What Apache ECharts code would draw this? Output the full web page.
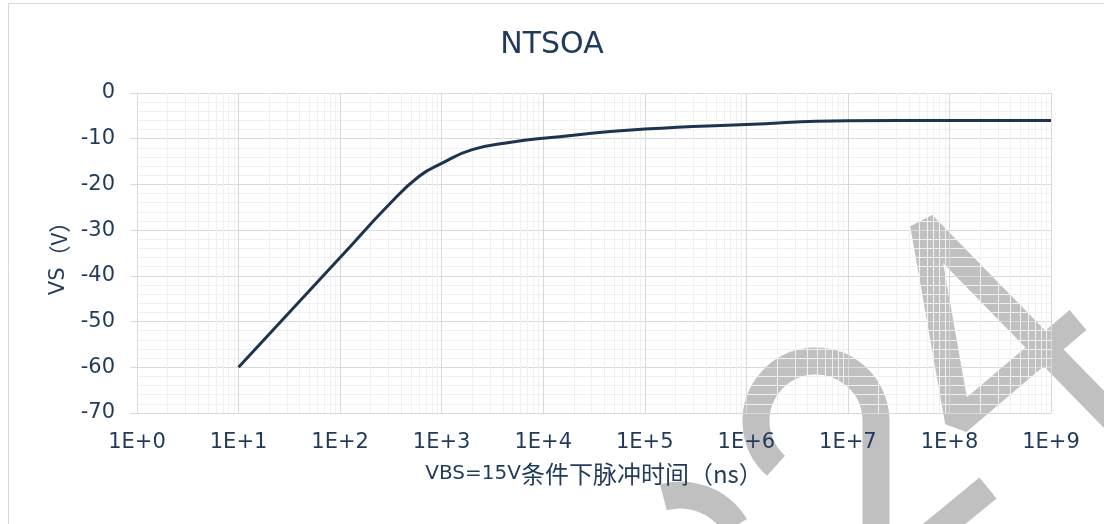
<!DOCTYPE html>
<html>
<head>
<meta charset="utf-8">
<script src="https://cdn.jsdelivr.net/npm/echarts@6/dist/echarts.min.js"></script>
<style>
  html, body {margin: 0; padding: 0; background: #fff;}
  #chart {width: 1104px; height: 524px;}
</style>
</head>
<body>
<div id="chart"></div>
<script>
// pulse time (ns) and VS (V)
const timesNs = [10, 100, 300, 600, 1000, 2000, 5000, 1e4, 1e5, 1e6, 1e7, 1e8, 1e9];
const vsVolts = [-60, -36, -24.5, -18.2, -15.4, -12.4, -10.7, -9.9, -7.9, -6.9, -6.05, -6, -6];
const decades = [0, 1, 2, 3, 4, 5, 6, 7, 8];
const yTicks = [-70, -60, -50, -40, -30, -20, -10, 0];

const textColor = '#1f3a5a';
const font = "'DejaVu Sans', 'Noto Sans CJK SC', sans-serif";
const cjkFont = "'Noto Sans CJK SC', sans-serif";

// light grid lines at 2..9 inside each decade
const minorX = [];
decades.forEach(function (d) {
    for (let k = 2; k <= 9; k++) minorX.push({xAxis: k * Math.pow(10, d)});
});

const wm = {fill: 'none', stroke: '#c0c0c0', lineWidth: 27};

var myChart = echarts.init(document.getElementById('chart'));
myChart.setOption({
    animation: false,
    textStyle: {fontFamily: font},
    title: {
        text: 'NTSOA',
        left: 'center',
        top: 25,
        textStyle: {color: textColor, fontSize: 30, fontWeight: 'normal', fontFamily: font}
    },
    graphic: [
        {type: 'rect', z: -5, shape: {x: 8.5, y: 3.5, width: 1200, height: 600},
            style: {fill: 'none', stroke: '#d9d9d9', lineWidth: 1}},
        // faint watermark behind the plot
        {type: 'arc', z: -5, shape: {cx: 816, cy: 421, r: 60, startAngle: 2.3, endAngle: Math.PI * 2, clockwise: true},
            style: wm},
        {type: 'line', z: -5, shape: {x1: 876, y1: 420, x2: 876, y2: 540}, style: wm},
        {type: 'arc', z: -5, shape: {cx: 680, cy: 560, r: 65, startAngle: -1.83, endAngle: -0.55, clockwise: true},
            style: wm},
        {type: 'polyline', z: -5, shape: {points: [[1078, 320], [958, 422], [923, 224], [1130, 436]]},
            style: {fill: 'none', stroke: '#c0c0c0', lineWidth: 26, lineJoin: 'bevel'}},
        {type: 'line', z: -5, shape: {x1: 988, y1: 488, x2: 915, y2: 548}, style: wm}
    ],
    grid: {left: 137, right: 53, top: 93, bottom: 111},
    xAxis: {
        type: 'log',
        logBase: 10,
        min: 1,
        max: 1e9,
        name: '{a|VBS=15V}{b|条件下脉冲时间（ns）}',
        nameLocation: 'middle',
        nameGap: 49,
        nameTextStyle: {
            color: textColor,
            rich: {
                a: {color: textColor, fontSize: 20, fontFamily: font},
                b: {color: textColor, fontSize: 24, fontFamily: cjkFont}
            }
        },
        axisLine: {onZero: false, lineStyle: {color: '#d9d9d9'}},
        axisTick: {show: false},
        axisLabel: {
            color: textColor, fontSize: 21, margin: 19, fontFamily: font,
            formatter: function (v) { return '1E+' + Math.round(Math.log10(v)); }
        },
        splitLine: {show: true, lineStyle: {color: '#d9d9d9'}}
    },
    yAxis: {
        type: 'value',
        min: yTicks[0],
        max: yTicks[yTicks.length - 1],
        interval: 10,
        name: '{a|VS}{b|（V）}',
        nameLocation: 'middle',
        nameGap: 58,
        nameTextStyle: {
            color: textColor,
            rich: {
                a: {color: textColor, fontSize: 21, fontFamily: font},
                b: {color: textColor, fontSize: 22, fontFamily: cjkFont}
            }
        },
        axisLine: {show: true, lineStyle: {color: '#d9d9d9'}},
        axisTick: {show: true, length: 7, lineStyle: {color: '#d9d9d9'}},
        axisLabel: {color: textColor, fontSize: 21, margin: 22, fontFamily: font},
        splitLine: {lineStyle: {color: '#d9d9d9'}},
        minorTick: {show: false, splitNumber: 5},
        minorSplitLine: {show: true, lineStyle: {color: '#f0f0f0'}}
    },
    series: [
        {
            type: 'line',
            z: 1,
            silent: true,
            data: [],
            markLine: {
                z: 1,
                silent: true,
                symbol: 'none',
                label: {show: false},
                lineStyle: {type: 'solid', color: '#f0f0f0', width: 1},
                data: minorX
            }
        },
        {
            name: 'VS',
            type: 'line',
            z: 10,
            smooth: 0.5,
            showSymbol: false,
            lineStyle: {color: '#1d3450', width: 3},
            data: timesNs.map(function (t, i) { return [t, vsVolts[i]]; })
        }
    ]
});
</script>
</body>
</html>
